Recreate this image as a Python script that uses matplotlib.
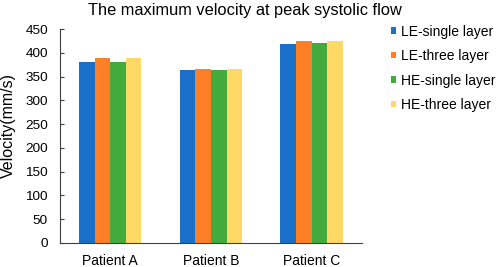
import numpy as np
import matplotlib.pyplot as plt

plt.rcParams['font.family'] = ['Liberation Sans', 'DejaVu Sans']

patients = ['Patient A', 'Patient B', 'Patient C']
series = ['LE-single layer', 'LE-three layer', 'HE-single layer', 'HE-three layer']
le_single = [380, 365, 418]
le_three = [389, 367, 424]
he_single = [380, 365, 420]
he_three = [389, 367, 425]
colors = ['#1a6fc8', '#ff7f27', '#43ab3c', '#ffd966']

fig = plt.figure(figsize=(4.98, 2.67), dpi=100)
ax = fig.add_axes([0.12, 0.09, 0.607, 0.801])

x = np.arange(len(patients))
w = 0.155
for i, (vals, name) in enumerate(zip([le_single, le_three, he_single, he_three], series)):
    ax.bar(x + (i - 1.5) * w, vals, w, color=colors[i], label=name)

ax.set_ylim(0, 450)
ax.set_yticks(range(0, 451, 50))
ax.set_xlim(-0.5, 2.5)
ax.set_xticks(x)
ax.set_xticklabels(patients)
ax.tick_params(axis='x', length=0, labelsize=10, pad=8)
ax.tick_params(axis='y', direction='in', length=3, width=0.8, color='#404040',
               labelsize=9.7, pad=8.5)
for s in ['top', 'right']:
    ax.spines[s].set_visible(False)
ax.spines['left'].set_color('#404040')
ax.spines['bottom'].set_color('#404040')

fig.text(8 / 498, 1 - 125 / 267, 'Velocity(mm/s)', rotation=90,
         ha='center', va='center', fontsize=11.5)
fig.text(245 / 498, 1 - 10 / 267, 'The maximum velocity at peak systolic flow',
         ha='center', va='center', fontsize=11.8)

ax.legend(loc='upper left', bbox_to_anchor=(1.056, 1.079), frameon=False,
          fontsize=10, handlelength=0.36, handleheight=0.36, handletextpad=0.36,
          labelspacing=0.75)

plt.savefig('out.png', dpi=100)
